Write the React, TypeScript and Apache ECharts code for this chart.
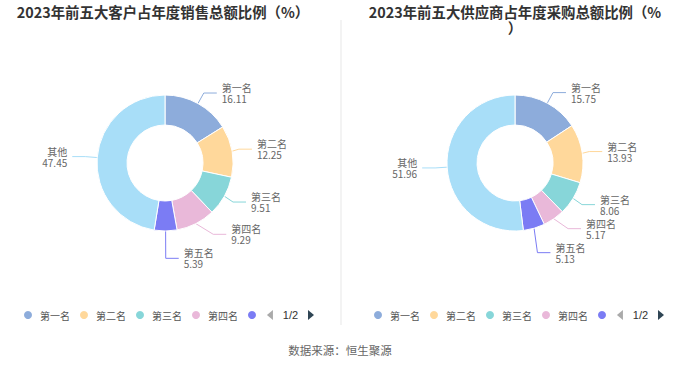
import React, { useEffect, useRef } from "react";
import * as echarts from "echarts";

const categories = ["第一名", "第二名", "第三名", "第四名", "第五名", "其他"];
const customerValues = [16.11, 12.25, 9.51, 9.29, 5.39, 47.45];
const supplierValues = [15.75, 13.93, 8.06, 5.17, 5.13, 51.96];
const colors = ["#8DACDB", "#FFD89B", "#87D6D9", "#E9B8D9", "#7B7CF4", "#A8DEF8"];
const leftTitle = "2023年前五大客户占年度销售总额比例（%）";
const rightTitle = "2023年前五大供应商占年度采购总额比例（%）";
const sourceText = "数据来源：恒生聚源";

function makePie(values: number[], cx: number) {
  return {
    type: "pie",
    center: [cx, 163],
    radius: [38, 68],
    startAngle: 90,
    clockwise: true,
    avoidLabelOverlap: true,
    itemStyle: { borderColor: "#fff", borderWidth: 1 },
    label: {
      show: true,
      formatter: "{b}\n{c}",
      fontSize: 10,
      lineHeight: 11,
      color: "#666",
      fontFamily: "Noto Sans CJK SC",
    },
    labelLine: { show: true, length: 12, length2: 13, lineStyle: { width: 1 } },
    data: categories.map((name, i) => ({
      name,
      value: values[i],
      itemStyle: { color: colors[i] },
    })),
  };
}

function makeLegend(left: number) {
  return {
    type: "scroll",
    left,
    top: 304,
    width: 292,
    orient: "horizontal",
    icon: "circle",
    itemWidth: 14,
    itemHeight: 10,
    itemGap: 8,
    data: categories,
    textStyle: { fontSize: 10, color: "#555", fontFamily: "Noto Sans CJK SC" },
    pageIconSize: 10,
    pageIconColor: "#2f4554",
    pageIconInactiveColor: "#aaa",
    pageTextStyle: { color: "#333", fontSize: 11 },
    pageButtonItemGap: 5,
  };
}

export default function App() {
  const ref = useRef<HTMLDivElement>(null);
  useEffect(() => {
    if (!ref.current) return;
    const chart = echarts.init(ref.current, undefined, { renderer: "svg" });
    const titleStyle = {
      fontSize: 14.4,
      fontWeight: "bold",
      color: "#333",
      fontFamily: "Noto Sans CJK SC",
      width: 302,
      overflow: "break",
      lineHeight: 16,
    };
    chart.setOption({
      animation: false,
      backgroundColor: "#fff",
      title: [
        { text: leftTitle, left: 158, top: -2, textAlign: "center", textStyle: titleStyle },
        { text: rightTitle, left: 510, top: -2, textAlign: "center", textStyle: titleStyle },
      ],
      legend: [makeLegend(17), makeLegend(367)],
      graphic: [
        {
          type: "line",
          shape: { x1: 341, y1: 20, x2: 341, y2: 325 },
          style: { stroke: "#f3f3f3", lineWidth: 2 },
          silent: true,
        },
        {
          type: "text",
          left: "center",
          top: 344,
          style: {
            text: sourceText,
            fontSize: 11.5,
            fill: "#666",
            fontFamily: "Noto Sans CJK SC",
          },
        },
      ],
      series: [makePie(customerValues, 165), makePie(supplierValues, 515)],
    });
    return () => chart.dispose();
  }, []);
  return (
    <div
      ref={ref}
      style={{ position: "fixed", left: 0, top: 0, width: 680, height: 367 }}
    />
  );
}
